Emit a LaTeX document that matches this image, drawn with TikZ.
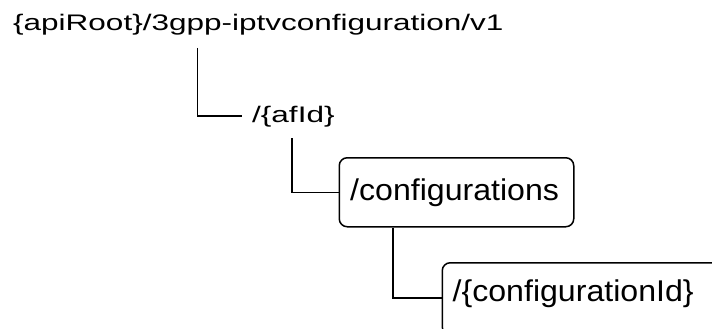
\documentclass[tikz,border=0pt]{standalone}
\usepackage{fontspec}
\setmainfont{Liberation Sans}
\newfontfamily\rootfont{Liberation Sans}[FakeStretch=1.4]
\newfontfamily\boxfont{Liberation Sans}[FakeStretch=1.07]
\tikzset{
  smalltext/.style={inner sep=0pt, anchor=base west, font=\rootfont\fontsize{22.5}{27}\selectfont},
  boxtext/.style={inner sep=0pt, anchor=base west, font=\boxfont\fontsize{30}{36}\selectfont},
  resbox/.style={draw, line width=1.5pt, rounded corners=8pt, anchor=north west, inner sep=0pt},
  link/.style={line width=1.3pt}
}
\begin{document}
\begin{tikzpicture}[x=1pt,y=-1pt]
\useasboundingbox (0,0) rectangle (712,329);
\clip (0,0) rectangle (712,329);
\node[smalltext] (root) at (13,30.5) {\{apiRoot\}/3gpp-iptvconfiguration/v1};
\node[smalltext] (afid) at (252,122) {/\{afId\}};
\node[resbox, minimum width=234.5pt, minimum height=69pt] (confbox) at (338.5,157) {};
\node[boxtext] (conf) at (350,200) {/configurations};
\node[resbox, minimum width=300pt, minimum height=72pt] (confidbox) at (441.5,262) {};
\node[boxtext] (confid) at (452.5,301) {/\{configurationId\}};
\draw[link] ([xshift=184.5pt,yshift=-17.5pt]root.base west) |- ([xshift=-10.5pt,yshift=6pt]afid.base west);
\draw[link] ([xshift=40pt,yshift=-16pt]afid.base west) |- (confbox.west);
\draw[link] ([xshift=54.5pt]confbox.south west) |- ([yshift=-36pt]confidbox.north west);
\end{tikzpicture}
\end{document}
